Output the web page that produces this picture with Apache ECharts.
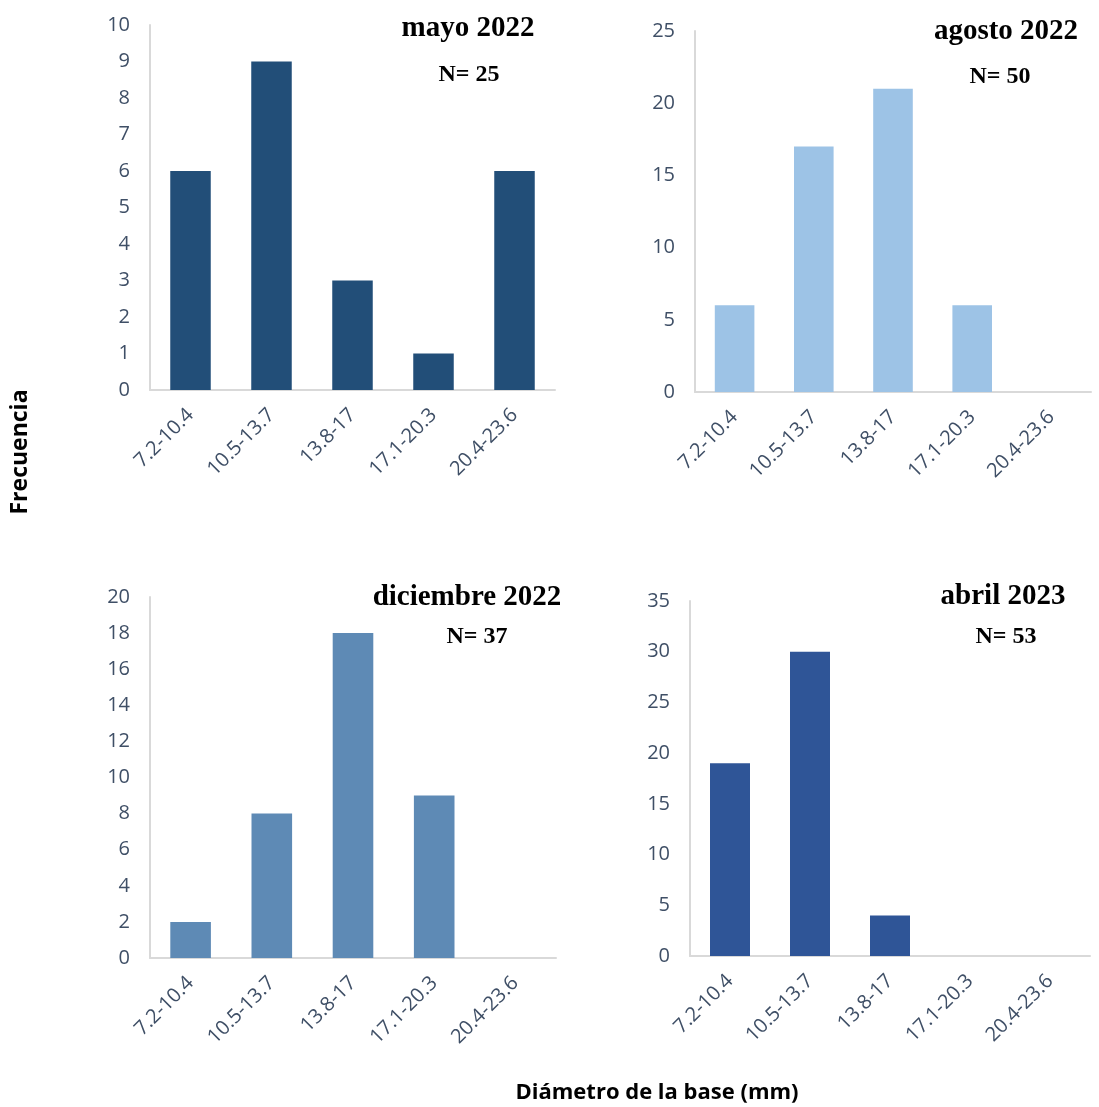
<!DOCTYPE html>
<html>
<head>
<meta charset="utf-8">
<script src="https://cdn.jsdelivr.net/npm/echarts@6/dist/echarts.min.js"></script>
<style>
    html, body { margin: 0; padding: 0; background: #fff; }
    #chart { width: 1099px; height: 1107px; }
</style>
</head>
<body>
<div id="chart"></div>
<script>
    // datos
    const categories = ['7.2-10.4', '10.5-13.7', '13.8-17', '17.1-20.3', '20.4-23.6']
    const mayo2022 = [6, 9, 3, 1, 6]
    const agosto2022 = [6, 17, 21, 6, 0]
    const diciembre2022 = [2, 8, 18, 9, 0]
    const abril2023 = [19, 30, 4, 0, 0]
    const panelNames = ['mayo 2022', 'agosto 2022', 'diciembre 2022', 'abril 2023']
    const panelN = ['N= 25', 'N= 50', 'N= 37', 'N= 53']
    const yMax = [10, 25, 20, 35]
    const yStep = [1, 5, 2, 5]

    const seriesData = [mayo2022, agosto2022, diciembre2022, abril2023]
    const colors = ['#224e78', '#9dc3e6', '#5e8ab5', '#2f5597']

    // posicion de cada panel
    const grids = [
        {left: 150, top: 25, width: 405, height: 365},
        {left: 695, top: 31, width: 396, height: 361},
        {left: 150, top: 597, width: 406, height: 361},
        {left: 690, top: 601, width: 400, height: 355}
    ]
    const titlePos = [
        {x: 468, y: 29, nx: 469, ny: 75},
        {x: 1006, y: 32, nx: 1000, ny: 77},
        {x: 467, y: 598, nx: 477, ny: 637},
        {x: 1003, y: 597, nx: 1006, ny: 637}
    ]

    const labelColor = '#3f4f66'
    const axisColor = '#d9d9d9'
    const tickFont = '"Open Sans", sans-serif'
    const titleFont = '"Liberation Serif", "Times New Roman", serif'

    const chart = echarts.init(document.getElementById('chart'))

    const xAxis = grids.map((g, i) => ({
        type: 'category',
        gridIndex: i,
        data: categories,
        axisTick: {show: false},
        axisLine: {lineStyle: {color: axisColor, width: 2}},
        axisLabel: {
            interval: 0,
            rotate: 45,
            margin: 22,
            color: labelColor,
            fontSize: 20,
            fontFamily: tickFont
        }
    }))

    const yAxis = grids.map((g, i) => ({
        type: 'value',
        gridIndex: i,
        min: 0,
        max: yMax[i],
        interval: yStep[i],
        axisTick: {show: false},
        splitLine: {show: false},
        axisLine: {show: true, lineStyle: {color: axisColor, width: 2}},
        axisLabel: {
            margin: 20,
            color: labelColor,
            fontSize: 20,
            fontFamily: tickFont
        }
    }))

    const series = seriesData.map((d, i) => ({
        type: 'bar',
        xAxisIndex: i,
        yAxisIndex: i,
        data: d,
        barWidth: '50%',
        silent: true,
        itemStyle: {color: colors[i]}
    }))

    const graphic = []
    titlePos.forEach((p, i) => {
        graphic.push({
            type: 'text', x: p.x, y: p.y,
            style: {
                text: panelNames[i], fill: '#000', font: 'bold 29px ' + titleFont,
                textAlign: 'center', textVerticalAlign: 'middle'
            }
        })
        graphic.push({
            type: 'text', x: p.nx, y: p.ny,
            style: {
                text: panelN[i], fill: '#000', font: 'bold 24px ' + titleFont,
                textAlign: 'center', textVerticalAlign: 'middle'
            }
        })
    })
    graphic.push({
        type: 'text', x: 20, y: 452, rotation: Math.PI / 2,
        style: {
            text: 'Frecuencia', fill: '#000', font: 'bold 23px "Open Sans", sans-serif',
            textAlign: 'center', textVerticalAlign: 'middle'
        }
    })
    graphic.push({
        type: 'text', x: 657, y: 1093,
        style: {
            text: 'Diámetro de la base (mm)', fill: '#000', font: 'bold 22px "Open Sans", sans-serif',
            textAlign: 'center', textVerticalAlign: 'middle'
        }
    })

    chart.setOption({
        animation: false,
        grid: grids,
        xAxis,
        yAxis,
        series,
        graphic
    })
</script>
</body>
</html>
